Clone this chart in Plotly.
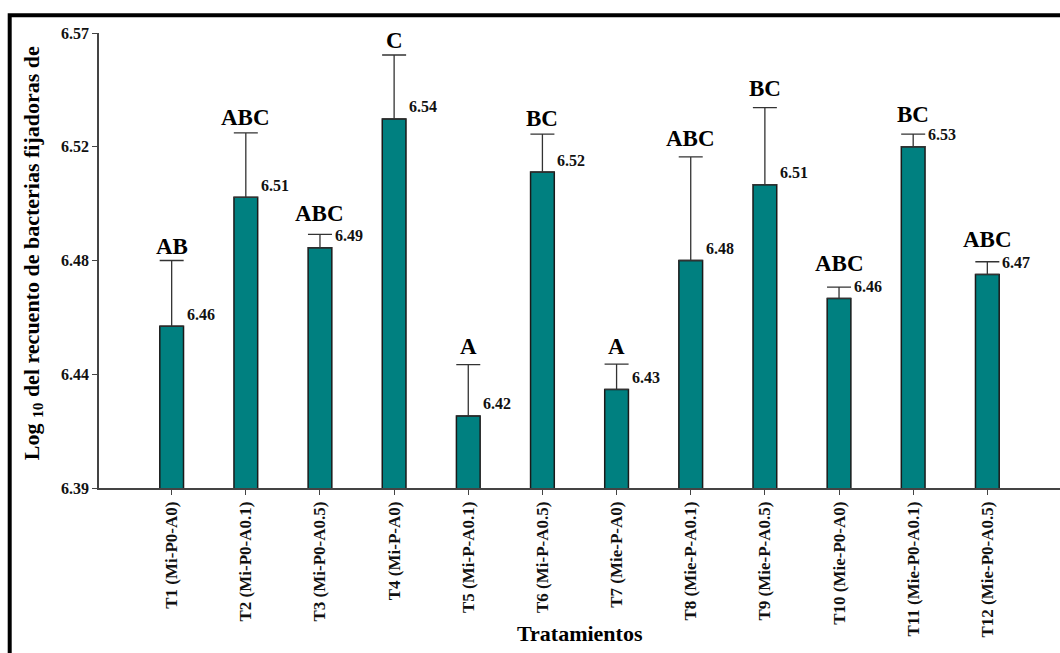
import plotly.graph_objects as go

categories = ["T1 (Mi-P0-A0)", "T2 (Mi-P0-A0.1)", "T3 (Mi-P0-A0.5)", "T4 (Mi-P-A0)",
              "T5 (Mi-P-A0.1)", "T6 (Mi-P-A0.5)", "T7 (Mie-P-A0)", "T8 (Mie-P-A0.1)",
              "T9 (Mie-P-A0.5)", "T10 (Mie-P0-A0)", "T11 (Mie-P0-A0.1)", "T12 (Mie-P0-A0.5)"]
means = [6.454, 6.505, 6.485, 6.536, 6.4185, 6.515, 6.429, 6.480, 6.510, 6.465, 6.525, 6.4745]
errors = [0.026, 0.0255, 0.0053, 0.0253, 0.0203, 0.015, 0.010, 0.041, 0.0305, 0.0045, 0.005, 0.005]
value_labels = ["6.46", "6.51", "6.49", "6.54", "6.42", "6.52", "6.43", "6.48", "6.51", "6.46", "6.53", "6.47"]
letters = ["AB", "ABC", "ABC", "C", "A", "BC", "A", "ABC", "BC", "ABC", "BC", "ABC"]
y_tickvals = [6.39, 6.435, 6.48, 6.525, 6.57]
y_ticktext = ["6.39", "6.44", "6.48", "6.52", "6.57"]

# layout: vertical pixel gap of each letter above its error-bar cap
letter_gap_px = [14, 15, 21, 14, 18, 16, 18, 18, 19, 24, 20, 22]

FONT = "Liberation Serif"

fig = go.Figure()
fig.add_trace(go.Bar(
    x=categories, y=means, width=0.32,
    marker=dict(color="#008080", line=dict(color="#1a1a1a", width=1.5)),
    error_y=dict(type="data", symmetric=False, array=errors, arrayminus=[0] * len(errors),
                 color="#333333", thickness=1.3, width=12),
))

annotations = []
for c, m, e, vl, lt, g in zip(categories, means, errors, value_labels, letters, letter_gap_px):
    annotations.append(dict(x=c, y=m, text="<b>%s</b>" % vl, showarrow=False,
                            xanchor="left", yanchor="middle", xshift=13, yshift=12,
                            font=dict(family=FONT, size=16, color="#111111")))
    annotations.append(dict(x=c, y=m + e, text="<b>%s</b>" % lt, showarrow=False,
                            xanchor="center", yanchor="middle", yshift=g,
                            font=dict(family=FONT, size=23, color="#000000")))

annotations.append(dict(xref="paper", yref="paper", x=-0.0687, y=0.516,
                        text="<b>Log <sub>10</sub> del recuento de bacterias fijadoras de</b>",
                        textangle=-90, showarrow=False, xanchor="center", yanchor="middle",
                        font=dict(family=FONT, size=22, color="#000000")))
annotations.append(dict(xref="paper", yref="paper", x=0.5, y=(488 - 633) / 455,
                        text="<b>Tratamientos</b>", showarrow=False,
                        xanchor="center", yanchor="middle",
                        font=dict(family=FONT, size=22, color="#000000")))

fig.update_layout(
    width=1060, height=653,
    margin=dict(l=99, r=0, t=33, b=165),
    paper_bgcolor="white", plot_bgcolor="white",
    showlegend=False,
    annotations=annotations,
    xaxis=dict(
        range=[-0.98, 11.98], showgrid=False, zeroline=False,
        showline=True, linecolor="#444444", linewidth=1.5,
        ticks="outside", ticklen=5, tickcolor="#444444", tickwidth=1.2,
        tickangle=-90,
        tickvals=categories, ticktext=["<b>%s</b>" % c for c in categories],
        tickfont=dict(family=FONT, size=17, color="#111111"),
    ),
    yaxis=dict(
        range=[6.39, 6.57], showgrid=False, zeroline=False,
        showline=True, linecolor="#444444", linewidth=1.5,
        ticks="outside", ticklen=5, tickcolor="#444444", tickwidth=1.2,
        tickvals=y_tickvals, ticktext=["<b>%s</b>" % t for t in y_ticktext],
        tickfont=dict(family=FONT, size=16, color="#111111"),
    ),
    shapes=[dict(type="rect", xref="paper", yref="paper",
                 x0=(9.7 - 99) / 961, x1=1.05,
                 y0=-0.6, y1=(488 - 15.3) / 455,
                 line=dict(color="black", width=4), fillcolor="rgba(0,0,0,0)")],
)

fig.write_html("out.html")
